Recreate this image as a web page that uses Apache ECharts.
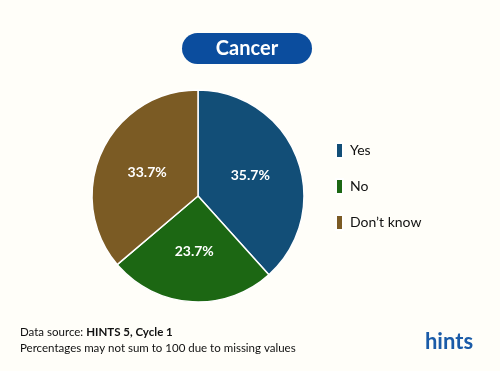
<!DOCTYPE html>
<html><head><meta charset="utf-8">
<script src="https://cdn.jsdelivr.net/npm/echarts@6/dist/echarts.min.js"></script>
<style>html,body{margin:0;padding:0;background:#FFFEF9;}#c{width:500px;height:371px;}</style>
</head><body><div id="c"></div>
<script>
const categories = ["Yes", "No", "Don\u2019t know"];
const values = [35.7, 23.7, 33.7];
const colors = ["#124E77", "#1C6713", "#7B5B24"];
const title = "Cancer";
const footer1a = "Data source: ";
const footer1b = "HINTS 5, Cycle 1";
const footer2 = "Percentages may not sum to 100 due to missing values";

const chart = echarts.init(document.getElementById('c'), null, {renderer: 'canvas'});
const F = "Lato, 'Open Sans', sans-serif";
chart.setOption({
  backgroundColor: '#FFFEF9',
  animation: false,
  legend: {
    orient: 'vertical', left: 330, top: 137, itemGap: 19,
    itemWidth: 7, itemHeight: 15, icon: 'rect',
    textStyle: {fontFamily: F, fontSize: 14, color: '#111', padding: [0,0,0,2]},
    data: categories
  },
  graphic: [
    {type: 'rect', shape: {x: 182, y: 33, width: 130, height: 31, r: 15.5}, style: {fill: '#0B4D9E'}},
    {type: 'text', x: 247, y: 48.5, style: {text: title, fill: '#fff', font: "bold 20px " + F, textAlign: 'center', textVerticalAlign: 'middle'}},
    {type: 'text', x: 20, y: 326, style: {rich: {a: {fontFamily: F, fontSize: 11.5, fill: '#111'}, b: {fontFamily: F, fontSize: 11.5, fontWeight: 'bold', fill: '#111'}}, text: '{a|' + footer1a + '}{b|' + footer1b + '}'}},
    {type: 'text', x: 20, y: 342, style: {text: footer2, font: "11.5px " + F, fill: '#111'}},
    {type: 'text', x: 449, y: 342, style: {text: 'hints', font: "bold 22px " + F, fill: '#1A5BA8', textAlign: 'center', textVerticalAlign: 'middle'}}
  ],
  series: [{
    type: 'pie', center: [198, 196], radius: 106, startAngle: 90, clockwise: true,
    color: colors,
    itemStyle: {borderColor: '#fff', borderWidth: 1.5},
    label: {position: 'inside', formatter: p => p.value.toFixed(1) + '%', color: '#fff', fontFamily: F, fontWeight: 'bold', fontSize: 14},
    labelLine: {show: false},
    emphasis: {disabled: true},
    data: categories.map((c, i) => ({name: c, value: values[i]}))
  }]
});
</script></body></html>
